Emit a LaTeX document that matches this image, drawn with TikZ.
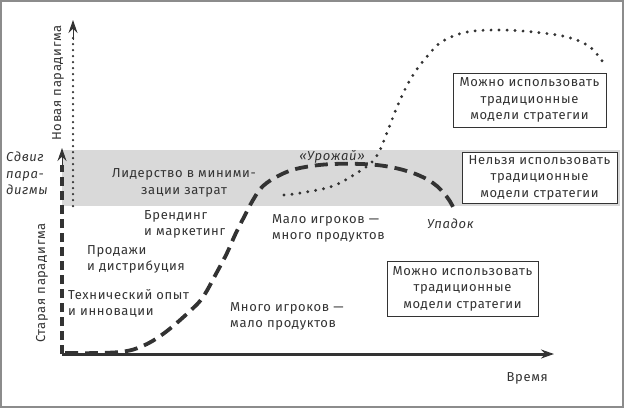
\documentclass[tikz,border=0pt]{standalone}
\usepackage{fontspec}
\setmainfont{Fira Sans}[LetterSpace=5]
\usetikzlibrary{arrows.meta}
\definecolor{ink}{HTML}{333333}
\definecolor{band}{HTML}{D9D9D9}
\definecolor{frame}{HTML}{8C8C8C}
\tikzset{
  lbl/.style={font=\fontsize{13}{16.5}\selectfont, text=ink, inner sep=0pt, align=left},
  ilbl/.style={lbl, font=\fontsize{13}{16.5}\selectfont\itshape},
  infobox/.style={draw=ink, line width=0.8pt, fill=white, font=\fontsize{13}{16.5}\selectfont, text=ink, align=center, inner sep=3pt},
  dashcurve/.style={draw=ink, line width=3.8pt, dash pattern=on 13pt off 7pt},
  dotcurve/.style={draw=ink, line width=3.2pt, line cap=round, dash pattern=on 0pt off 8pt},
  arr/.style={-{Stealth[length=13pt,width=9pt]}}
}
\begin{document}
\begin{tikzpicture}[x=1pt,y=-1pt]
\useasboundingbox (0,0) rectangle (624,408);
\draw[frame, line width=2pt] (1,1) rectangle (623,407);
% band
\fill[band] (62,150) rectangle (620,206);
% coordinates
\coordinate (o) at (62,354);
\coordinate (xend) at (554,354);
\coordinate (yend) at (62,148);
\coordinate (d0) at (73,206);
\coordinate (dend) at (73,20);
% curves
\draw[dashcurve] plot[smooth, tension=0.6] coordinates {(65,353) (100,353) (127,351) (147,344) (167,331) (190,311) (203,297) (217,272) (227,253) (235,235) (243,219) (253,200) (263,186) (280,175) (300,168) (333,164) (377,165) (410,172) (433,183) (447,197) (454,209)};
\draw[dotcurve] plot[smooth, tension=0.6] coordinates {(284,195) (300,193) (333,186) (360,171) (372,162) (380,150) (388,130) (400,100) (413,75) (430,53) (443,41) (467,32) (500,30) (533,32) (567,37) (590,47) (605,65)};
% axes
\draw[ink, line width=3pt, arr] (o) -- (xend);
\draw[ink, line width=3.5pt, dash pattern=on 9pt off 5pt] (o) -- (62,165);
\draw[ink, line width=1pt, arr] (62,168) -- (yend);
\draw[ink, line width=2.5pt, line cap=round, dash pattern=on 0pt off 6pt] (d0) -- (73,36);
\draw[ink, line width=1pt, arr] (73,40) -- (dend);
% axis labels
\node[lbl, rotate=90] (newp) at (58,83) {Новая парадигма};
\node[lbl, rotate=90] (oldp) at (42,283) {Старая парадигма};
\node[ilbl, anchor=north west] (shift) at (6,152) {Сдвиг\\пара-\\дигмы};
\node[lbl, anchor=east] (time) at (548,378) {Время};
% stage labels
\node[lbl, align=center] (cost) at (184,183) {Лидерство в миними-\\зации затрат};
\node[lbl, anchor=north west] (brand) at (144,210) {Брендинг\\и маркетинг};
\node[lbl, anchor=north west] (sales) at (87,245) {Продажи\\и дистрибуция};
\node[lbl, anchor=north west] (tech) at (68,289) {Технический опыт\\и инновации};
\node[lbl, anchor=north west] (many) at (230,302) {Много игроков —\\мало продуктов};
\node[lbl, anchor=north west] (few) at (272,214) {Мало игроков —\\много продуктов};
\node[ilbl, anchor=west] (decline) at (427,224) {Упадок};
\node[ilbl] (harvest) at (332,157) {«Урожай»};
% boxes
\node[infobox, minimum width=155pt, minimum height=51pt] (boxmid) at (539.5,177.5) {Нельзя использовать\\традиционные\\модели стратегии};
\node[infobox, minimum width=153pt, minimum height=54pt] (boxtop) at (529.5,100) {Можно использовать\\традиционные\\модели стратегии};
\node[infobox, minimum width=151pt, minimum height=55pt] (boxlow) at (462.5,288.5) {Можно использовать\\традиционные\\модели стратегии};
\end{tikzpicture}
\end{document}
